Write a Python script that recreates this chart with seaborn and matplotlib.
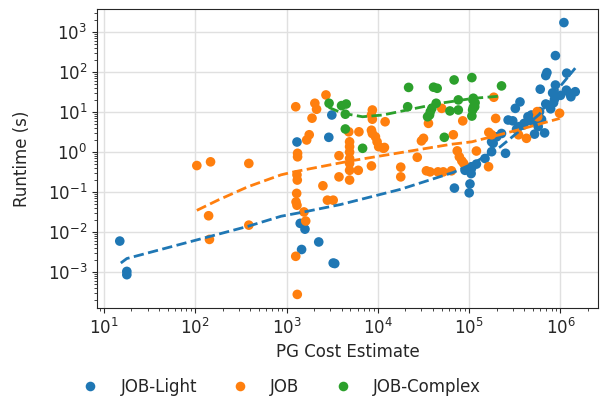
import pandas as pd
import matplotlib.pyplot as plt
import seaborn as sns

sns.set_style('ticks')
plt.rcParams['font.family'] = ['DejaVu Sans']

# JOB-Light points (PG cost, runtime)
light_cost = [14.9, 17.8, 17.8, 1300, 1410, 1590, 1460, 2250, 3240, 3370, 3130, 2900,
              68900, 90000, 100000, 102000, 105000, 106000, 106000, 120000, 149000, 176000,
              250000, 183000, 176000, 200000, 226000, 1.09e6, 8.8e5, 7.1e5, 6.9e5, 1.17e6,
              6.0e5, 8.8e5, 8.2e5, 1.16e6, 1.26e6, 1.45e6, 1.3e6, 8.6e5, 3.6e5, 6.9e5,
              3.2e5, 5.9e5, 4.4e5, 3.0e5, 2.67e5, 3.9e5, 5.0e5, 5.7e5, 6.7e5, 5.2e5,
              3.3e5, 3.5e5, 4.0e5, 4.5e5, 4.8e5, 8.4e5, 5.3e5, 6.2e5, 7.8e5, 1.0e6]
light_time = [0.006, 0.00105, 0.00087, 1.78, 0.0166, 0.0119, 0.0037, 0.0057, 0.0017, 0.00165, 8.4, 2.33,
              0.126, 0.35, 0.096, 0.16, 0.29, 0.43, 0.39, 0.5, 0.69, 1.02,
              0.93, 1.66, 1.8, 2.4, 2.9, 1700, 255, 96, 81, 93,
              37, 47, 30, 35, 29, 32, 24, 21, 17.8, 15.8,
              12.3, 10.2, 7.6, 6.0, 6.3, 4.7, 5.7, 4.3, 3.0, 2.8,
              3.7, 4.3, 5.2, 6.3, 8.4, 17, 7.0, 6.5, 12, 26]

# JOB points
job_cost = [104, 147, 386, 140, 143, 386, 1320, 1320, 1300, 1310, 1290, 1270, 1300, 1550, 1620,
            1260, 1310, 3750, 3750, 2500, 2800, 3240, 2700, 1260, 2040, 2130, 1900, 8700, 8500,
            8700, 12000, 1770, 1660, 4800, 6200, 4900, 4900, 4900, 4900, 4900, 4900, 4900,
            8500, 8700, 9400, 9800, 10200, 11500, 6100, 8500, 50000, 35800, 85000, 31600,
            30000, 67000, 11800, 27000, 74000, 78000, 83000, 87000, 17800, 17800, 34000, 37300,
            45500, 52000, 64000, 120000, 164000, 176000, 195000, 186000, 347000, 424000,
            556000, 563000, 977000, 163000]
job_time = [0.46, 0.57, 0.52, 0.0257, 0.0066, 0.015, 0.93, 0.76, 0.27, 0.2, 0.093, 0.057, 0.047, 0.032, 0.019,
            0.0025, 0.00028, 0.81, 0.24, 0.144, 0.063, 0.063, 26.6, 13.5, 16.5, 11.7, 7.0, 11.2, 8.4,
            6.6, 5.7, 2.7, 2.0, 3.2, 3.2, 1.8, 1.36, 1.0, 0.69, 0.52, 0.35, 0.2,
            3.5, 2.9, 2.4, 1.8, 1.36, 1.24, 0.35, 0.45, 12.3, 5.2, 6.0, 2.2,
            1.9, 2.7, 1.3, 0.74, 1.07, 0.76, 0.6, 0.52, 0.42, 0.24, 0.34, 0.32,
            0.32, 0.32, 0.34, 1.06, 3.1, 2.7, 6.9, 23.3, 2.7, 2.2,
            10.2, 7.6, 9.3, 0.43]

# JOB-Complex points
complex_cost = [2920, 4000, 4500, 4400, 4400, 6800, 21700, 40700, 44600, 68400, 107000, 226000,
                21200, 43500, 39000, 37500, 36800, 35000, 61500, 76000, 76000, 110000, 115000,
                109000, 107000, 53400, 116000, 111000, 111000]
complex_time = [16.5, 14.4, 15.8, 8.8, 3.76, 1.24, 41, 41.5, 39, 63, 72, 44.7,
                13.5, 16.5, 12.3, 10.2, 8.4, 7.6, 10.6, 11.2, 20, 20, 13.5,
                11.2, 7.9, 2.33, 17, 22, 13]

# dashed trend lines
light_fit_x = [15.3, 17.8, 101, 377, 870, 1550, 3900, 17600, 67000, 111000, 219000, 580000, 1.02e6, 1.45e6]
light_fit_y = [0.0017, 0.0022, 0.0063, 0.014, 0.025, 0.032, 0.049, 0.117, 0.31, 0.52, 1.35, 8.5, 47, 124]
job_fit_x = [104, 177, 377, 870, 1200, 5000, 62000, 107000, 350000, 980000]
job_fit_y = [0.035, 0.063, 0.136, 0.27, 0.32, 0.6, 1.55, 1.8, 3.6, 6.9]
complex_fit_x = [2900, 4100, 6800, 11300, 21000, 48000, 111000, 226000]
complex_fit_y = [13, 9.3, 7.6, 8.4, 11.2, 16.5, 21.9, 25]

suites = ['JOB-Light', 'JOB', 'JOB-Complex']
colors = sns.color_palette('tab10')[:3]

pts = pd.concat([
    pd.DataFrame({'cost': light_cost, 'runtime': light_time, 'suite': 'JOB-Light'}),
    pd.DataFrame({'cost': job_cost, 'runtime': job_time, 'suite': 'JOB'}),
    pd.DataFrame({'cost': complex_cost, 'runtime': complex_time, 'suite': 'JOB-Complex'}),
])
fits = pd.concat([
    pd.DataFrame({'cost': light_fit_x, 'runtime': light_fit_y, 'suite': 'JOB-Light'}),
    pd.DataFrame({'cost': job_fit_x, 'runtime': job_fit_y, 'suite': 'JOB'}),
    pd.DataFrame({'cost': complex_fit_x, 'runtime': complex_fit_y, 'suite': 'JOB-Complex'}),
])

fig, ax = plt.subplots(figsize=(6, 3.98), dpi=100)
fig.subplots_adjust(left=97/600, right=598/600, top=1-9/398, bottom=1-308/398)

ax.set_xscale('log')
ax.set_yscale('log')
sns.scatterplot(data=pts, x='cost', y='runtime', hue='suite', hue_order=suites,
                palette=colors, s=48, linewidth=0, ax=ax, zorder=3)
sns.lineplot(data=fits, x='cost', y='runtime', hue='suite', hue_order=suites,
             palette=colors, linestyle='--', lw=2, legend=False, ax=ax, zorder=4,
             estimator=None, sort=False)

ax.grid(True, which='major', color='#e0e0e0', lw=1)
ax.set_axisbelow(True)
ax.tick_params(labelsize=12)
ax.set_xlabel('PG Cost Estimate', fontsize=12)
ax.set_ylabel('Runtime (s)', fontsize=12, labelpad=12)

sns.move_legend(ax, 'center', bbox_to_anchor=(0.36, -0.264), ncol=3,
                frameon=False, title=None, fontsize=12, columnspacing=1.6)

plt.savefig('out.png', dpi=100)
